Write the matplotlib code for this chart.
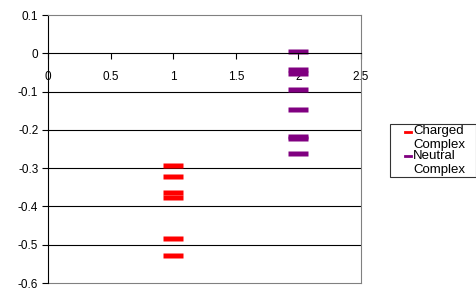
import numpy as np
import matplotlib.pyplot as plt
from matplotlib.lines import Line2D
from matplotlib.legend_handler import HandlerLine2D

plt.rcParams['font.family'] = ['Liberation Sans', 'DejaVu Sans']

charged_x = [1, 1, 1, 1, 1, 1]
charged_y = [-0.292, -0.321, -0.363, -0.376, -0.482, -0.526]
neutral_x = [2, 2, 2, 2, 2, 2, 2, 2]
neutral_y = [0.007, -0.040, -0.052, -0.0945, -0.145, -0.216, -0.222, -0.261]

xticks = [0, 0.5, 1, 1.5, 2, 2.5]
yticks = [0.1, 0, -0.1, -0.2, -0.3, -0.4, -0.5, -0.6]


class TopHandler(HandlerLine2D):
    # short line next to the first text line, like excel does
    def create_artists(self, legend, orig_handle, xdescent, ydescent, width, height, fontsize, trans):
        arts = super().create_artists(legend, orig_handle, xdescent, ydescent, width, height, fontsize, trans)
        for a in arts:
            y = np.asarray(a.get_ydata())
            a.set_xdata(np.linspace(width - xdescent - 0.5 * fontsize, width - xdescent, len(y)))
            a.set_ydata(y + 0.5 * fontsize)
        return arts


fig = plt.figure(figsize=(4.77, 3.04), dpi=100)
ax = fig.add_axes([48/477, 1-283/304, (361-48)/477, (283-15)/304])

dash = [(-1, -0.25), (1, -0.25), (1, 0.25), (-1, 0.25), (-1, -0.25)]
ax.plot(charged_x, charged_y, ls='none', marker=dash, ms=14.4, color='#ff0000', mec='none')
ax.plot(neutral_x, neutral_y, ls='none', marker=dash, ms=14.4, color='#800080', mec='none')

ax.set_xlim(0, 2.5)
ax.set_ylim(-0.6, 0.1)
ax.set_xticks(xticks)
ax.set_xticklabels(['0', '0.5', '1', '1.5', '2', '2.5'])
ax.set_yticks(yticks)
ax.set_yticklabels(['0.1', '0', '-0.1', '-0.2', '-0.3', '-0.4', '-0.5', '-0.6'])

for y in [-0.1, -0.2, -0.3, -0.4, -0.5]:
    ax.axhline(y, color='black', lw=0.8, zorder=0)
ax.axhline(-0.6, color='#808080', lw=0.8, clip_on=False)

ax.spines['bottom'].set_position(('data', 0))
ax.spines['bottom'].set_color('black')
ax.spines['bottom'].set_linewidth(0.8)
ax.spines['left'].set_color('black')
ax.spines['left'].set_linewidth(0.8)
ax.spines['top'].set_color('#808080')
ax.spines['right'].set_color('#808080')
ax.spines['top'].set_linewidth(0.8)
ax.spines['right'].set_linewidth(0.8)

ax.tick_params(axis='both', labelsize=8.5, length=4, width=0.8, direction='out', pad=3)
ax.tick_params(axis='x', pad=9)

handles = [Line2D([], [], color='#ff0000', lw=2), Line2D([], [], color='#800080', lw=2)]
labels = ['Charged\nComplex', 'Neutral\nComplex']
leg = fig.legend(handles, labels, loc='upper left',
                 bbox_to_anchor=(390/477, 1-172/304, 86/477, 48/304), mode='expand',
                 frameon=True, fancybox=False, edgecolor='black', fontsize=9.5,
                 handlelength=1.5, handletextpad=0.15, labelspacing=-0.1, borderpad=0.1,
                 borderaxespad=0, handler_map={Line2D: TopHandler()})
leg.get_frame().set_linewidth(0.8)

fig.savefig('out.png', dpi=100)
